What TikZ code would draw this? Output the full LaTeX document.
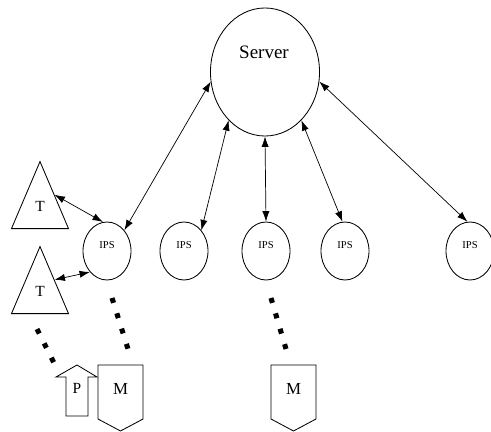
\documentclass[tikz,border=0pt]{standalone}
\usepackage{fontspec}
\setmainfont{Liberation Serif}
\usetikzlibrary{shapes.geometric,arrows.meta}

\begin{document}
\begin{tikzpicture}[x=0.025cm,y=-0.025cm,line width=0.6pt,
    server/.style={ellipse,draw,minimum width=2.725cm,minimum height=3.2cm,inner sep=0pt},
    ips/.style={ellipse,draw,minimum width=1.2cm,minimum height=1.45cm,inner sep=0pt},
    ipstext/.style={font=\fontsize{7.5}{8}\selectfont,yshift=0.15cm},
    term/.style={isosceles triangle,draw,shape border rotate=90,isosceles triangle stretches,
      minimum width=1.425cm,minimum height=1.675cm,inner sep=0pt,anchor=lower side},
    termtext/.style={font=\fontsize{11}{12}\selectfont,yshift=0.09cm},
    link/.style={{Latex[length=2.6mm,width=1.8mm]}-{Latex[length=2.6mm,width=1.8mm]},line width=0.5pt},
    wire/.style={line width=3.6pt,dash pattern=on 3.6pt off 7.8pt}]
  \useasboundingbox (0,0) rectangle (491,432);

  % server
  \node[server] (server) at (265,72) {};
  \node[font=\fontsize{13.5}{15}\selectfont] (srvname) at (264,52) {Server};

  % IPS row
  \foreach \n/\x in {1/107,2/184,3/266,4/345,5/470}
    \node[ips,label={[ipstext]center:IPS}] (ips\n) at (\x,251) {};

  % terminals
  \node[term,label={[termtext]center:T}] (t1) at (40,229) {};
  \node[term,label={[termtext]center:T}] (t2) at (40,314) {};

  % links
  \draw[link] (t1.right side) -- (ips1.98);
  \draw[link] (t2.right side) -- (ips1.231);
  \draw[link] (server.190) -- (ips1.50);
  \draw[link] (server.233) -- (ips2.50);
  \draw[link] (server.270) -- (ips3.90);
  \draw[link] (server.307) -- (ips4.95);
  \draw[link] (server.350) -- (ips5.95);

  % P key and M boxes
  \draw (66,416) -- (66,377) -- (56,377) -- (77,365) -- (97,377) -- (88,377) -- (88,416) -- cycle;
  \node[font=\fontsize{11}{12}\selectfont] (pkey) at (77,388) {P};
  \foreach \n/\x in {1/120.5,2/293.5} {
    \draw (\x-22.5,365) -- (\x+22.5,365) -- (\x+22.5,419) -- (\x,431) -- (\x-22.5,419) -- cycle;
    \node[font=\fontsize{12}{13}\selectfont] (mbox\n) at (\x,389) {M};
  }

  % dotted wires
  \coordinate (w1s) at (112,298);
  \coordinate (w1e) at (128,349);
  \coordinate (w2s) at (37,329);
  \coordinate (w2e) at (56,367);
  \coordinate (w3s) at (271,298);
  \coordinate (w3e) at (286,349);
  \draw[wire] (w1s) -- (w1e);
  \draw[wire] (w2s) -- (w2e);
  \draw[wire] (w3s) -- (w3e);
\end{tikzpicture}
\end{document}
